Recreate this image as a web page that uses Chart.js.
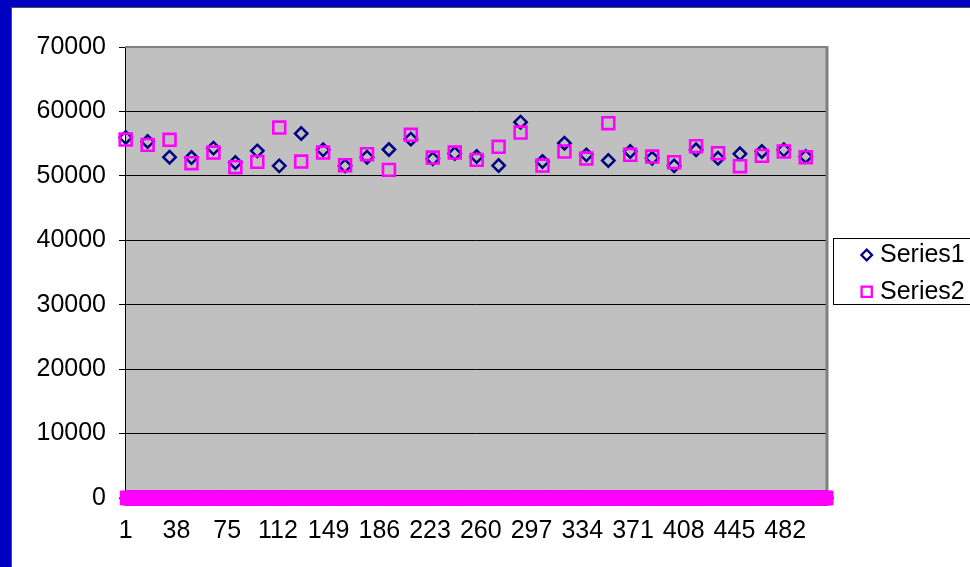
<!DOCTYPE html>
<html>
<head>
<meta charset="utf-8">
<script src="https://cdn.jsdelivr.net/npm/chart.js@4/dist/chart.umd.min.js"></script>
<style>
  html, body { margin: 0; padding: 0; }
  body { width: 970px; height: 567px; background: #0000c0; overflow: hidden; position: relative; }
  #frame { position: absolute; left: 11px; top: 7px; width: 960px; height: 561px;
           border-left: 1px solid #505050; border-top: 1px solid #505050; background: #fff; }
  canvas { display: block; }
</style>
</head>
<body>
<div id="frame"><canvas id="chart" width="958" height="559"></canvas></div>
<script>
// readings are taken every 16th category, everything else sits at 0
const categoryCount = 512;
const sampleCategories = [1, 17, 33, 49, 65, 81, 97, 113, 129, 145, 161, 177, 193, 209, 225, 241,
                          257, 273, 289, 305, 321, 337, 353, 369, 385, 401, 417, 433, 449, 465, 481, 497];
const series1Values = [55950, 55330, 52900, 52840, 54300, 52070, 53880, 51550, 56570, 54040, 51550, 52900,
                       54090, 55700, 52640, 53460, 53000, 51600, 58330, 52220, 55070, 53260, 52380, 53780,
                       52740, 51550, 54040, 52740, 53420, 53780, 54040, 53000];
const series2Values = [55640, 54810, 55590, 51970, 53620, 51350, 52170, 57500, 52220, 53620, 51660, 53370,
                       50930, 56370, 52840, 53620, 52480, 54500, 56720, 51600, 53780, 52690, 58180, 53260,
                       53000, 52120, 54610, 53520, 51500, 53100, 53780, 52900];
const xTickLabels = [1, 38, 75, 112, 149, 186, 223, 260, 297, 334, 371, 408, 445, 482];
const yTicks = [0, 10000, 20000, 30000, 40000, 50000, 60000, 70000];

const labels = Array.from({ length: categoryCount }, (_, i) => String(i + 1));

function buildSeries(values) {
    const out = new Array(categoryCount).fill(0);
    sampleCategories.forEach((cat, i) => { out[cat - 1] = values[i]; });
    return out;
}

const FONT = 'Liberation Sans, Arial, sans-serif';

const plotBackground = {
    id: 'plotBackground',
    beforeDraw(chart) {
        const { ctx, chartArea: a } = chart;
        ctx.save();
        ctx.fillStyle = '#c0c0c0';
        ctx.fillRect(a.left, a.top, a.right - a.left, a.bottom - a.top);
        ctx.restore();
    },
    beforeDatasetsDraw(chart) {
        const { ctx, chartArea: a } = chart;
        ctx.save();
        ctx.strokeStyle = '#808080';
        ctx.lineWidth = 2;
        ctx.beginPath();
        ctx.moveTo(a.left, a.top);
        ctx.lineTo(a.right, a.top);
        ctx.stroke();
        ctx.lineWidth = 3;
        ctx.beginPath();
        ctx.moveTo(a.right, a.top - 1);
        ctx.lineTo(a.right, a.bottom);
        ctx.stroke();
        ctx.restore();
    }
};

// Excel style legend box at the right, partly cut off by the frame
const boxLegend = {
    id: 'boxLegend',
    afterDraw(chart) {
        const { ctx } = chart;
        const left = 821, top = 230, width = 150, height = 67;
        ctx.save();
        ctx.fillStyle = '#fff';
        ctx.fillRect(left, top, width, height);
        ctx.strokeStyle = '#000';
        ctx.lineWidth = 1;
        ctx.strokeRect(left + 0.5, top + 0.5, width, height - 1);
        const rows = [top + 17, top + 53.7];
        chart.data.datasets.forEach((ds, i) => {
            const y = rows[i];
            ctx.strokeStyle = ds.borderColor;
            ctx.fillStyle = 'rgba(0,0,0,0)';
            ctx.lineWidth = 2.3;
            Chart.helpers.drawPoint(ctx, {
                pointStyle: ds.pointStyle,
                radius: ds.pointStyle === 'rect' ? 7.2 : 5.3,
                rotation: 0,
                borderWidth: 2.3
            }, 854.7, y);
            ctx.fillStyle = '#000';
            ctx.font = '25px ' + FONT;
            ctx.textBaseline = 'middle';
            ctx.textAlign = 'left';
            ctx.fillText(ds.label, 868, y);
        });
        ctx.restore();
    }
};

new Chart(document.getElementById('chart'), {
    type: 'line',
    data: {
        labels: labels,
        datasets: [{
            label: 'Series1',
            data: buildSeries(series1Values),
            showLine: false,
            clip: false,
            pointStyle: 'rectRot',
            pointRadius: 6.2,
            pointBorderWidth: 2.5,
            borderColor: '#000080',
            backgroundColor: 'rgba(0,0,0,0)',
            order: 1
        }, {
            label: 'Series2',
            data: buildSeries(series2Values),
            showLine: false,
            clip: false,
            pointStyle: 'rect',
            pointRadius: 8.4,
            pointBorderWidth: 2.6,
            borderColor: '#ff00ff',
            backgroundColor: 'rgba(0,0,0,0)',
            order: 0
        }]
    },
    options: {
        responsive: false,
        animation: false,
        events: [],
        layout: { padding: { left: 0, top: 39, right: 143, bottom: 0 } },
        plugins: { legend: { display: false }, tooltip: { enabled: false } },
        scales: {
            x: {
                type: 'category',
                offset: true,
                afterFit(scale) { scale.height = 69; },
                grid: { offset: true, drawOnChartArea: false, tickLength: 8, color: '#707070' },
                border: { color: '#000', width: 1 },
                ticks: {
                    autoSkip: false,
                    maxRotation: 0,
                    minRotation: 0,
                    padding: 10,
                    color: '#000',
                    font: { family: FONT, size: 25 },
                    callback(value, index) {
                        const lab = Number(labels[index]);
                        return xTickLabels.includes(lab) ? String(lab) : '';
                    }
                }
            },
            y: {
                min: 0,
                max: 70000,
                afterFit(scale) { scale.width = 113; },
                afterBuildTicks(scale) { scale.ticks = yTicks.map(v => ({ value: v })); },
                grid: { color: '#000', tickLength: 6 },
                border: { color: '#000', width: 1 },
                ticks: {
                    padding: 13,
                    color: '#000',
                    font: { family: FONT, size: 25 },
                    callback: v => String(v)
                }
            }
        }
    },
    plugins: [plotBackground, boxLegend]
});
</script>
</body>
</html>
